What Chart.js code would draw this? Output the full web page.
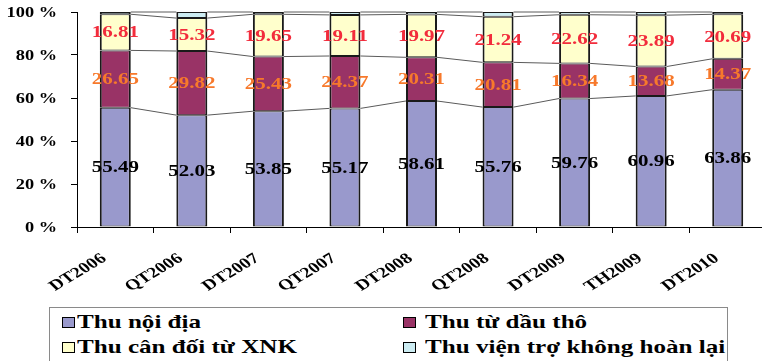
<!DOCTYPE html>
<html>
<head>
<meta charset="utf-8">
<script src="https://cdn.jsdelivr.net/npm/chart.js@4/dist/chart.umd.min.js"></script>
<style>
  html, body { margin: 0; padding: 0; background: #fff; overflow: hidden; width: 762px; height: 361px; }
  #wrap { position: relative; width: 762px; height: 361px; overflow: hidden; }
  #chart { position: absolute; left: 0; top: 0; }
  #legend { position: absolute; left: 49px; top: 307px; width: 679px; height: 70px;
            border: 1px solid #8a8a8a; background: #fff; box-sizing: border-box; }
  .item { position: absolute; font: bold 19px "Liberation Serif", "Times New Roman", serif; color: #000;
          white-space: nowrap; line-height: 19px; transform: scaleX(1.32); transform-origin: 0 0; }
  .sw { position: absolute; width: 11px; height: 9px; border: 1px solid #000; }
</style>
</head>
<body>
<div id="wrap">
  <canvas id="chart" width="766" height="361"></canvas>
  <div id="legend"></div>
</div>
<script>
// Cơ cấu thu ngân sách nhà nước (%)
const categories = ['DT2006', 'QT2006', 'DT2007', 'QT2007', 'DT2008', 'QT2008', 'DT2009', 'TH2009', 'DT2010'];
const thuNoiDia  = [55.49, 52.03, 53.85, 55.17, 58.61, 55.76, 59.76, 60.96, 63.86];
const thuDauTho  = [26.65, 29.82, 25.43, 24.37, 20.31, 20.81, 16.34, 13.68, 14.37];
const thuCanDoi  = [16.81, 15.32, 19.65, 19.11, 19.97, 21.24, 22.62, 23.89, 20.69];
const thuVienTro = [1.05, 2.83, 1.07, 1.35, 1.11, 2.19, 1.28, 1.47, 1.08];
const yTicks = [0, 20, 40, 60, 80, 100];

const seriesNames  = ['Thu nội địa', 'Thu từ dầu thô', 'Thu cân đối từ XNK', 'Thu viện trợ không hoàn lại'];
const seriesFills  = ['#9999CC', '#993366', '#FFFFCC', '#CCECF2'];
const labelColors  = ['#000000', '#F7792B', '#F22C3C', null];

const FONT = '"Liberation Serif", "Times New Roman", serif';
const STRETCH = 1.31;   // wide lettering used throughout the chart

// draws text horizontally widened around its anchor point
function wideText(ctx, text, x, y, angle) {
  ctx.save();
  ctx.translate(x, y);
  ctx.scale(STRETCH, 1);
  if (angle) ctx.rotate(angle);
  ctx.fillText(text, 0, 0);
  ctx.restore();
}

// Thin connector lines between the tops of each stacked segment
const seriesLines = {
  id: 'seriesLines',
  afterDatasetsDraw(chart) {
    const ctx = chart.ctx;
    ctx.save();
    ctx.strokeStyle = '#5a5a5a';
    ctx.lineWidth = 1;
    chart.data.datasets.forEach((ds, d) => {
      const bars = chart.getDatasetMeta(d).data;
      for (let i = 0; i < bars.length - 1; i++) {
        const a = bars[i], b = bars[i + 1];
        ctx.beginPath();
        ctx.moveTo(a.x + a.width / 2, a.y);
        ctx.lineTo(b.x - b.width / 2, b.y);
        ctx.stroke();
      }
    });
    ctx.restore();
  }
};

// Value labels centred in each segment
const valueLabels = {
  id: 'valueLabels',
  afterDatasetsDraw(chart) {
    const ctx = chart.ctx;
    ctx.save();
    ctx.font = 'bold 16px ' + FONT;
    ctx.textAlign = 'center';
    ctx.textBaseline = 'middle';
    chart.data.datasets.forEach((ds, d) => {
      if (!labelColors[d]) return;
      ctx.fillStyle = labelColors[d];
      chart.getDatasetMeta(d).data.forEach((bar, i) => {
        const yMid = (bar.y + bar.base) / 2;
        wideText(ctx, ds.data[i].toFixed(2), bar.x, yMid + 1);
      });
    });
    ctx.restore();
  }
};

// Axis lettering (percent ticks and rotated category names)
const axisText = {
  id: 'axisText',
  afterDraw(chart) {
    const ctx = chart.ctx;
    const xs = chart.scales.x, ys = chart.scales.y;
    ctx.save();
    ctx.fillStyle = '#000';
    ctx.font = 'bold 14px ' + FONT;
    ctx.textAlign = 'right';
    ctx.textBaseline = 'middle';
    yTicks.forEach(v => {
      wideText(ctx, v + ' %', ys.right - 20, ys.getPixelForValue(v) + 1);
    });
    ctx.font = 'bold 15px ' + FONT;
    ctx.textAlign = 'right';
    ctx.textBaseline = 'top';
    categories.forEach((c, i) => {
      wideText(ctx, c, xs.getPixelForValue(i) - 17, xs.top + 24, -38 * Math.PI / 180);
    });
    ctx.restore();
  }
};

const seriesData = [thuNoiDia, thuDauTho, thuCanDoi, thuVienTro];

new Chart(document.getElementById('chart'), {
  type: 'bar',
  data: {
    labels: categories,
    datasets: seriesData.map((vals, k) => ({
      label: seriesNames[k],
      data: vals,
      backgroundColor: seriesFills[k],
      borderColor: '#1a1a1a',
      borderWidth: { top: 1, bottom: 1, left: 2, right: 2 },
      borderSkipped: false,
      inflateAmount: 0,
      barPercentage: 0.405,
      categoryPercentage: 1.0
    }))
  },
  options: {
    responsive: false,
    animation: false,
    devicePixelRatio: 1,
    layout: { padding: { top: 12, left: 0, right: 0, bottom: 0 } },
    plugins: { legend: { display: false }, tooltip: { enabled: false } },
    scales: {
      x: {
        stacked: true,
        grid: { display: true, drawOnChartArea: false, drawTicks: true, tickLength: 6, color: '#000', offset: true },
        border: { display: true, color: '#000', width: 1 },
        ticks: { display: false, autoSkip: false },
        afterFit(s) { s.height = 134; s.paddingRight = 0; s.paddingLeft = 0; }
      },
      y: {
        stacked: true,
        min: 0, max: 100,
        afterBuildTicks(s) { s.ticks = yTicks.map(v => ({ value: v })); },
        grid: { display: true, drawOnChartArea: false, drawTicks: true, tickLength: 6, color: '#000' },
        border: { display: true, color: '#000', width: 1 },
        ticks: { display: false },
        afterFit(s) { s.width = 77; }
      }
    }
  },
  plugins: [seriesLines, valueLabels, axisText]
});

// Two-column legend
const legendPos = [
  { sx: 12, tx: 27, row: 0 },
  { sx: 353, tx: 375, row: 0 },
  { sx: 12, tx: 27, row: 1 },
  { sx: 353, tx: 375, row: 1 }
];
const legend = document.getElementById('legend');
seriesNames.forEach((name, k) => {
  const p = legendPos[k];
  const sw = document.createElement('div');
  sw.className = 'sw';
  sw.style.left = p.sx + 'px';
  sw.style.top = (9 + p.row * 25) + 'px';
  sw.style.background = seriesFills[k];
  legend.appendChild(sw);
  const t = document.createElement('div');
  t.className = 'item';
  t.style.left = p.tx + 'px';
  t.style.top = (4 + p.row * 25) + 'px';
  t.textContent = name;
  legend.appendChild(t);
});
</script>
</body>
</html>
